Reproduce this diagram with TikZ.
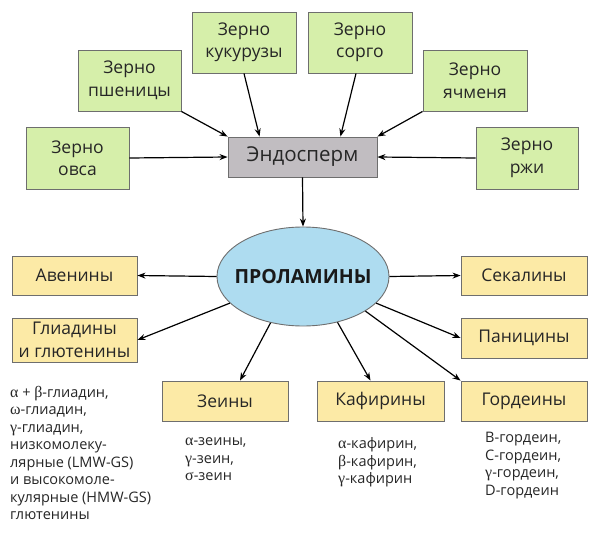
\documentclass[tikz,border=0pt]{standalone}
\usepackage{fontspec}
\setmainfont{Open Sans}
\newfontfamily\grk[Scale=1.1]{Liberation Serif}
\usetikzlibrary{arrows.meta,shapes.geometric,calc}
\definecolor{grfill}{HTML}{D6EFAA}
\definecolor{yefill}{HTML}{FCEAA6}
\definecolor{blfill}{HTML}{AEDCF0}
\definecolor{gyfill}{HTML}{C1BDC1}
\definecolor{bord}{HTML}{6E6E6E}
\newcommand{\gk}[1]{{\grk #1}}
\begin{document}
\begin{tikzpicture}[x=1pt,y=-1pt,
  box/.style={draw=bord,line width=0.9pt,inner sep=0pt,align=center,
    font=\fontsize{17.5}{22.5}\selectfont,text=black!85},
  grain/.style={box,fill=grfill,minimum width=103pt,minimum height=61pt},
  prol/.style={box,fill=yefill,minimum width=126pt,minimum height=40pt},
  listtext/.style={inner sep=0pt,align=left,anchor=north west,
    font=\fontsize{14.5}{17.5}\selectfont,text=black!85},
  arr/.style={line width=1.2pt,-{Stealth[length=8pt,width=6pt]}}]
\useasboundingbox (0,0) rectangle (600,535);
% grain boxes
\node[grain,minimum height=62pt] (oves) at (77.5,158) {Зерно\\овса};
\node[grain] (psh) at (129.5,80.5) {Зерно\\пшеницы};
\node[grain,minimum width=104pt] (kuk) at (244,42.5) {Зерно\\кукурузы};
\node[grain,minimum width=104pt] (sorgo) at (360,42.5) {Зерно\\сорго};
\node[grain,minimum width=104pt] (yachm) at (475,80.5) {Зерно\\ячменя};
\node[grain,minimum width=102pt,minimum height=62pt] (rzh) at (527,158) {Зерно\\ржи};
\node[box,fill=gyfill,minimum width=149pt,minimum height=40pt,
  font=\fontsize{20.5}{24}\selectfont] (endo) at (302.5,157) {Эндосперм};
% ellipse
\node[ellipse,draw=bord,line width=0.9pt,fill=blfill,minimum width=172pt,minimum height=99pt,
  inner sep=0pt] (ell) at (303,276.5) {};
\node[inner sep=0pt,font=\fontsize{19.5}{22}\selectfont\bfseries,text=black!90] (elltxt) at (ell.center) {ПРОЛАМИНЫ};
% prolamin boxes
\node[prol,minimum width=125pt,minimum height=39pt] (aven) at (74.5,275.5) {Авенины};
\node[prol,minimum width=125pt,minimum height=44pt] (gliad) at (74.5,340) {Глиадины\\и глютенины};
\node[prol,minimum height=39pt] (sekal) at (524,275.5) {Секалины};
\node[prol] (panic) at (524,338) {Паницины};
\node[prol] (zein) at (225,401) {Зеины};
\node[prol,minimum width=127pt] (kafir) at (380.5,401) {Кафирины};
\node[prol] (gord) at (524,401) {Гордеины};
% lists
\node[listtext] (glist) at (10,386) {\gk{α} + \gk{β}-глиадин,\\\gk{ω}-глиадин,\\\gk{γ}-глиадин,\\низкомолеку-\\лярные (LMW-GS)\\и высокомоле-\\кулярные (HMW-GS)\\глютенины};
\node[listtext] (zlist) at (185,437.5) {\gk{α}-зеины,\\\gk{γ}-зеин,\\\gk{σ}-зеин};
\node[listtext] (klist) at (338,437.5) {\gk{α}-кафирин,\\\gk{β}-кафирин,\\\gk{γ}-кафирин};
\node[listtext] (dlist) at (485,432) {B-гордеин,\\C-гордеин,\\\gk{γ}-гордеин,\\D-гордеин};
% arrows to endosperm
\draw[arr] (oves.east) -- (endo.west);
\draw[arr] (psh.south east) -- (endo.north west);
\draw[arr] (kuk.south) -- ($(endo.north west)+(32,0)$);
\draw[arr] ($(sorgo.south)+(-4,0)$) -- ($(endo.north east)+(-37,0)$);
\draw[arr] (yachm.south west) -- (endo.north east);
\draw[arr] (rzh.west) -- (endo.east);
\draw[arr] (endo.south) -- (ell.north);
% arrows from ellipse
\draw[arr] (ell.west) -- (aven.east);
\draw[arr] (ell.east) -- (sekal.west);
\draw[arr] (ell.200) -- (gliad.east);
\draw[arr] (ell.-20) -- (panic.west);
\draw[arr] (ell.235) -- ($(zein.north)+(15,0)$);
\draw[arr] (ell.-53) -- ($(kafir.north)+(-10,0)$);
\draw[arr] (ell.-29) -- (gord.north west);
\end{tikzpicture}
\end{document}
